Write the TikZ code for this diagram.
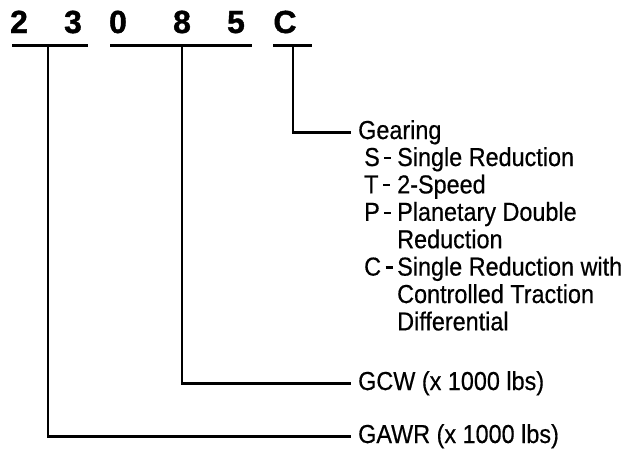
\documentclass[tikz,border=0pt]{standalone}
\usepackage{fontspec}
\setmainfont{Liberation Sans}[FakeStretch=0.9,FakeBold=0.5]
\newfontfamily\digitfont{Liberation Sans Bold}[FakeBold=1.2]
\newcommand\ldash{\hspace{4.5pt}\rule[7pt]{7pt}{2.2pt}}
\newcommand\gitem[1]{\makebox[33pt][l]{#1\ldash}}
\begin{document}
\begin{tikzpicture}[x=1pt,y=-1pt,
  digit/.style={font=\digitfont\fontsize{32}{32}\selectfont, anchor=base, inner sep=0pt},
  bar/.style={line width=3pt},
  conn/.style={line width=2.6pt, line cap=rect},
  lbl/.style={font=\fontsize{26}{27.4}\selectfont, anchor=base west, inner xsep=8pt, inner ysep=0pt},
  lst/.style={font=\fontsize{26}{27.4}\selectfont, anchor=base west, inner sep=0pt}
]
\useasboundingbox (0,0) rectangle (628,453);
% digits
\node[digit] (d1) at (19,33) {2};
\node[digit] (d2) at (73,33) {3};
\node[digit] (d3) at (118,33) {0};
\node[digit] (d4) at (182,33) {8};
\node[digit] (d5) at (236,33) {5};
\node[digit] (d6) at (285,33) {C};
% underline bars
\coordinate (b1l) at (12,45); \coordinate (b1r) at (88,45);
\coordinate (b2l) at (110,45); \coordinate (b2r) at (252,45);
\coordinate (b3l) at (273,45); \coordinate (b3r) at (312,45);
\draw[bar] (b1l) -- (b1r);
\draw[bar] (b2l) -- (b2r);
\draw[bar] (b3l) -- (b3r);
\coordinate (t1) at (48,45);
\coordinate (t2) at (182,45);
\coordinate (t3) at (293,45);
% labels
\node[lbl] (gear) at (350,139) {Gearing};
\node[lst] (glist) at (364,166) {%
  \begin{tabular}[t]{@{}l@{}}
  \gitem{S}Single Reduction\\
  \gitem{T}2-Speed\\
  \gitem{P}Planetary Double\\
  \hspace{33pt}Reduction\\
  \gitem{C}Single Reduction with\\
  \hspace{33pt}Controlled Traction\\
  \hspace{33pt}Differential
  \end{tabular}};
\node[lbl] (gcw) at (350,390) {GCW (x 1000 lbs)};
\node[lbl] (gawr) at (350,443) {GAWR (x 1000 lbs)};
% connectors
\draw[conn] (t3) |- (gear.west);
\draw[conn] (t2) |- (gcw.west);
\draw[conn] (t1) |- (gawr.west);
\end{tikzpicture}
\end{document}
